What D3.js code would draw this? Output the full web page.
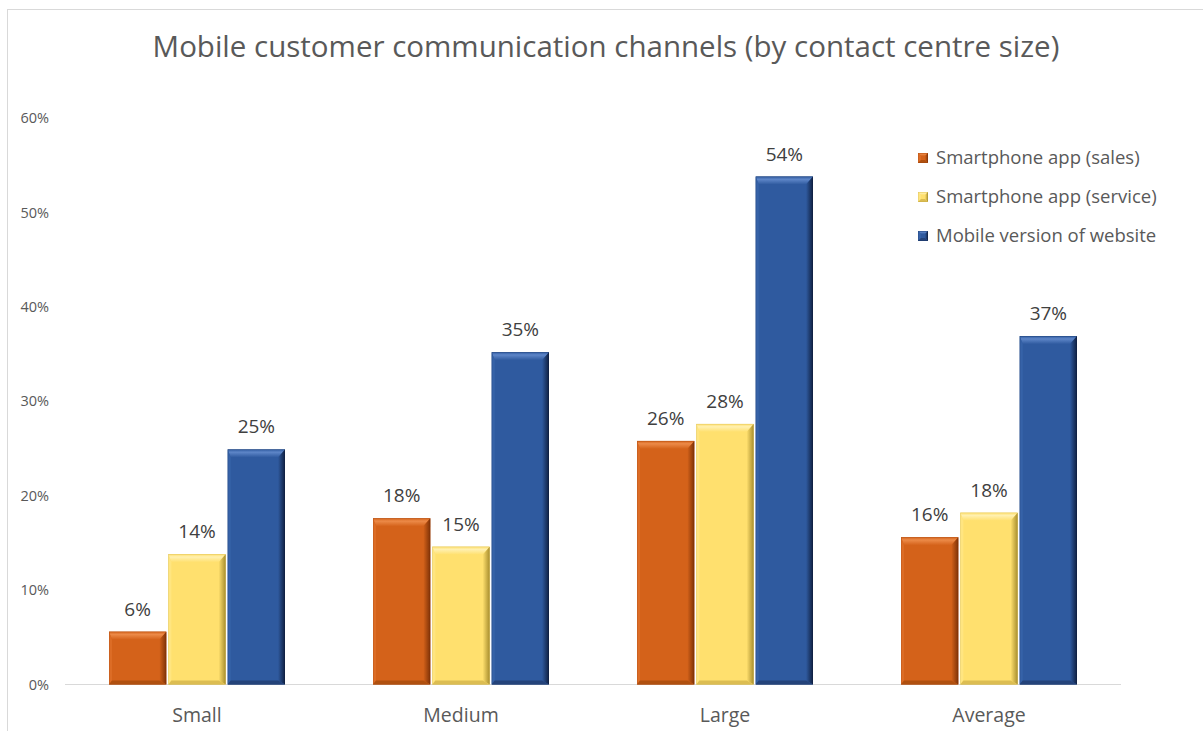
<!DOCTYPE html>
<html>
<head>
<meta charset="utf-8">
<script src="https://cdn.jsdelivr.net/npm/d3@7"></script>
<style>
  html, body { margin: 0; padding: 0; background: #fff; }
  svg { display: block; }
</style>
</head>
<body>
<svg id="chart" width="1203" height="731"></svg>
<script>
// Contact centre sizes and the share using each mobile channel
const categories = ["Small", "Medium", "Large", "Average"];
const seriesNames = ["Smartphone app (sales)", "Smartphone app (service)", "Mobile version of website"];
const salesApp   = [0.056, 0.176, 0.258, 0.156];
const serviceApp = [0.138, 0.146, 0.276, 0.182];
const mobileWeb  = [0.249, 0.352, 0.538, 0.369];
const yTicks = [0, 0.1, 0.2, 0.3, 0.4, 0.5, 0.6];

// Face colours: base, top bevel, left bevel, right bevel, bottom bevel
const palettes = [
  { base: "#d4621a", top: "#ec8a48", left: "#dc6c25", right: "#7e3207", bottom: "#b0500f" },
  { base: "#ffe06e", top: "#fff0b0", left: "#ffe580", right: "#a88e2e", bottom: "#dcbd52" },
  { base: "#2f5a9f", top: "#5e86c8", left: "#3662a8", right: "#0f1f40", bottom: "#24437a" }
];

const seriesValues = [salesApp, serviceApp, mobileWeb];
const rows = categories.map((c, i) => ({ cat: c, vals: seriesValues.map(s => s[i]) }));

const svg = d3.select("#chart");
const W = 1203, H = 731;
const fontMain = "'Open Sans', 'Noto Sans', sans-serif";

// Gradients for the bevel faces
const defs = svg.append("defs");
palettes.forEach((p, i) => {
  const gt = defs.append("linearGradient").attr("id", `bevTop${i}`)
    .attr("x1", 0).attr("y1", 0).attr("x2", 0).attr("y2", 1);
  gt.append("stop").attr("offset", 0).attr("stop-color", p.base);
  gt.append("stop").attr("offset", 0.35).attr("stop-color", p.top);
  gt.append("stop").attr("offset", 1).attr("stop-color", p.base);
  const gr = defs.append("linearGradient").attr("id", `bevRight${i}`)
    .attr("x1", 0).attr("y1", 0).attr("x2", 1).attr("y2", 0);
  gr.append("stop").attr("offset", 0).attr("stop-color", p.base);
  gr.append("stop").attr("offset", 1).attr("stop-color", p.right);
  p.topFill = `url(#bevTop${i})`;
  p.rightFill = `url(#bevRight${i})`;
});

// Chart outline
svg.append("rect")
  .attr("x", 7.5).attr("y", 9.5)
  .attr("width", W + 20).attr("height", H + 20)
  .attr("fill", "#fff").attr("stroke", "#d9d9d9").attr("stroke-width", 1);

const plot = { left: 65, right: 1121, top: 118, bottom: 684.5 };

const x0 = d3.scaleBand().domain(categories).range([plot.left, plot.right]).paddingInner(0).paddingOuter(0);
const groupWidth = 176;
const x1 = d3.scaleBand().domain(d3.range(3)).range([0, groupWidth]).paddingInner(0.035);
const y = d3.scaleLinear().domain([0, 0.6]).range([plot.bottom, plot.top]);

// Title
svg.append("text")
  .attr("x", 606).attr("y", 57)
  .attr("text-anchor", "middle")
  .attr("font-family", fontMain)
  .attr("font-size", 29.5)
  .attr("fill", "#595959")
  .text("Mobile customer communication channels (by contact centre size)");

// Y axis labels (no axis line, no gridlines)
const yAxis = d3.axisLeft(y).tickValues(yTicks).tickFormat(d3.format(".0%")).tickSize(0).tickPadding(0);
const yG = svg.append("g").attr("transform", "translate(49,0)").call(yAxis);
yG.select(".domain").remove();
yG.selectAll("text")
  .attr("font-family", fontMain).attr("font-size", 14.5).attr("fill", "#595959");

// X axis
const xAxis = d3.axisBottom(x0).tickSize(0).tickPadding(0);
const xG = svg.append("g").attr("transform", `translate(0,${plot.bottom})`).call(xAxis);
xG.select(".domain").attr("stroke", "#d9d9d9").attr("stroke-width", 1.2)
  .attr("d", `M${plot.left},0H${plot.right}`);
xG.selectAll("text")
  .attr("font-family", fontMain).attr("font-size", 19.5).attr("fill", "#595959")
  .attr("dy", "0").attr("y", 37);

// Bevelled bar drawing
function bevelBar(g, bx, by, bw, bh, pal, bt, bs, br, bb) {
  const x2 = bx + bw, y2 = by + bh;
  bt = Math.min(bt, bh / 2); bb = Math.min(bb, bh / 2);
  g.append("rect").attr("x", bx).attr("y", by).attr("width", bw).attr("height", bh).attr("fill", pal.base);
  // top
  g.append("path").attr("fill", pal.topFill)
    .attr("d", `M${bx},${by}L${x2},${by}L${x2 - br},${by + bt}L${bx + bs},${by + bt}Z`);
  // left
  g.append("path").attr("fill", pal.left)
    .attr("d", `M${bx},${by}L${bx + bs},${by + bt}L${bx + bs},${y2 - bb}L${bx},${y2}Z`);
  // right
  g.append("path").attr("fill", pal.rightFill)
    .attr("d", `M${x2},${by}L${x2},${y2}L${x2 - br},${y2 - bb}L${x2 - br},${by + bt}Z`);
  // bottom
  g.append("path").attr("fill", pal.bottom)
    .attr("d", `M${bx},${y2}L${x2},${y2}L${x2 - br},${y2 - bb}L${bx + bs},${y2 - bb}Z`);
  g.append("rect").attr("x", bx + 0.25).attr("y", by + 0.25).attr("width", bw - 0.5).attr("height", bh - 0.5)
    .attr("fill", "none").attr("stroke", pal.right).attr("stroke-opacity", 0.35).attr("stroke-width", 0.5);
}

const groups = svg.append("g").selectAll("g.grp")
  .data(rows).join("g")
  .attr("class", "grp")
  .attr("transform", d => `translate(${x0(d.cat) + (x0.bandwidth() - groupWidth) / 2},0)`);

groups.each(function (d) {
  const g = d3.select(this);
  d.vals.forEach((v, i) => {
    const bx = x1(i), bw = x1.bandwidth();
    const by = y(v), bh = y(0) - y(v);
    bevelBar(g.append("g"), bx, by, bw, bh, palettes[i], 8, 3, 7, 4);
    g.append("text")
      .attr("x", bx + bw / 2).attr("y", by - 16)
      .attr("text-anchor", "middle")
      .attr("font-family", fontMain).attr("font-size", 19)
      .attr("fill", "#404040")
      .text(d3.format(".0%")(v));
  });
});

// Legend
const legend = svg.append("g").attr("transform", "translate(918,0)");
seriesNames.forEach((name, i) => {
  const ly = 158 + i * 39;
  bevelBar(legend.append("g"), 0, ly - 5, 10, 10, palettes[i], 3, 3, 3, 3);
  legend.append("text")
    .attr("x", 18).attr("y", ly).attr("dy", "0.35em")
    .attr("font-family", fontMain).attr("font-size", 18.5)
    .attr("fill", "#595959")
    .text(name);
});
</script>
</body>
</html>
